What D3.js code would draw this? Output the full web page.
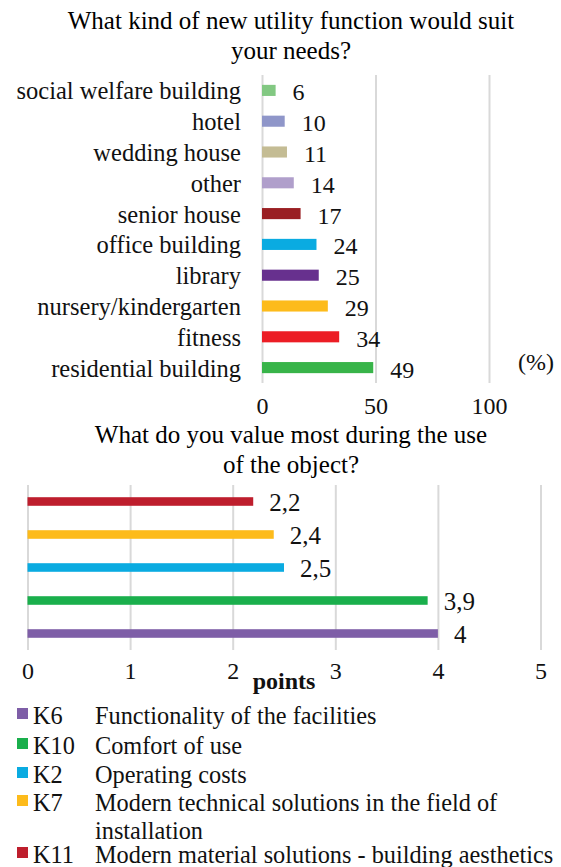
<!DOCTYPE html>
<html>
<head>
<meta charset="utf-8">
<script src="https://cdn.jsdelivr.net/npm/d3@7"></script>
</head>
<body style="margin:0;background:#fff">
<svg id="chart"></svg>
<script>
// top chart: utility function (%)
const useCategories = ["social welfare building", "hotel", "wedding house", "other", "senior house",
  "office building", "library", "nursery/kindergarten", "fitness", "residential building"];
const useValues = [6, 10, 11, 14, 17, 24, 25, 29, 34, 49];
const useColors = ["#82c882", "#8f96c9", "#c4bc94", "#b09fcb", "#9a1f23",
  "#0aabe1", "#67308e", "#fdbb1b", "#ec1d25", "#38b449"];
const useTicks = [0, 50, 100];

// bottom chart: what is valued most (points)
const valueCodes = ["K11", "K7", "K2", "K10", "K6"];
const valueScores = [2.2, 2.4, 2.5, 3.9, 4];
const valueColors = ["#be1e2d", "#fdbb1b", "#0aabe1", "#1aaf4c", "#7e5ea7"];
const valueTicks = [0, 1, 2, 3, 4, 5];

// legend (order as shown)
const legendCodes = ["K6", "K10", "K2", "K7", "K11"];
const legendNames = [
  ["Functionality of the facilities"],
  ["Comfort of use"],
  ["Operating costs"],
  ["Modern technical solutions in the field of", "installation"],
  ["Modern material solutions - building aesthetics"]
];

const W = 561, H = 867;
const svg = d3.select("#chart").attr("width", W).attr("height", H);
const grid = "#d9d9d9";

function title(lines, y0) {
  svg.append("text")
    .attr("x", 291).attr("y", y0)
    .attr("text-anchor", "middle")
    .style("font-size", "25px")
    .selectAll("tspan")
    .data(lines)
    .enter().append("tspan")
    .attr("x", 291)
    .attr("dy", (d, i) => i == 0 ? 0 : 30)
    .text(d => d);
}

// ---------- top chart ----------
title(["What kind of new utility function would suit", "your needs?"], 29);

let x1 = d3.scaleLinear().domain([0, 100]).range([262, 489]);
let y1 = d3.scaleBand().domain(useCategories).range([75, 383])
  .paddingInner(0.64).paddingOuter(0.32);

let g1 = svg.append("g");

let ax1 = g1.append("g")
  .attr("transform", "translate(0,383)")
  .call(d3.axisBottom(x1).tickValues(useTicks).tickFormat(d3.format("d"))
    .tickSize(-(383 - 75)).tickPadding(0));
ax1.select(".domain").remove();
ax1.selectAll("line").attr("stroke", grid).attr("stroke-width", 2);
ax1.selectAll("text").attr("y", 31).attr("dy", 0)
  .style("font-size", "24px").attr("fill", "#111");

let rows1 = useCategories.map((c, i) => ({ name: c, value: useValues[i], color: useColors[i] }));

g1.selectAll("rect.bar")
  .data(rows1)
  .enter().append("rect")
  .attr("class", "bar")
  .attr("x", x1(0))
  .attr("y", d => y1(d.name))
  .attr("width", d => x1(d.value) - x1(0))
  .attr("height", y1.bandwidth())
  .attr("fill", d => d.color);

g1.selectAll("text.cat")
  .data(rows1)
  .enter().append("text")
  .attr("class", "cat")
  .attr("x", 241)
  .attr("y", d => y1(d.name) + y1.bandwidth() / 2 + 9)
  .attr("text-anchor", "end")
  .style("font-size", "24.5px")
  .attr("fill", "#111")
  .text(d => d.name);

g1.selectAll("text.val")
  .data(rows1)
  .enter().append("text")
  .attr("class", "val")
  .attr("x", d => x1(d.value) + 17)
  .attr("y", d => y1(d.name) + y1.bandwidth() / 2 + 10)
  .style("font-size", "24px")
  .attr("fill", "#111")
  .text(d => d.value);

svg.append("text")
  .attr("x", 518).attr("y", 370)
  .style("font-size", "24px")
  .attr("fill", "#111")
  .text("(%)");

// ---------- bottom chart ----------
title(["What do you value most during the use", "of the object?"], 443);

let x2 = d3.scaleLinear().domain([0, 5]).range([27.5, 540.5]);
let y2 = d3.scaleBand().domain(valueCodes).range([485, 650])
  .paddingInner(0.74).paddingOuter(0.37);

let g2 = svg.append("g");

let ax2 = g2.append("g")
  .attr("transform", "translate(0,650)")
  .call(d3.axisBottom(x2).tickValues(valueTicks).tickFormat(d3.format("d"))
    .tickSize(-(650 - 485)).tickPadding(0));
ax2.select(".domain").remove();
ax2.selectAll("line").attr("stroke", grid).attr("stroke-width", 2);
ax2.selectAll("text").attr("y", 29).attr("dy", 0)
  .style("font-size", "24px").attr("fill", "#111");

let rows2 = valueCodes.map((c, i) => ({ code: c, value: valueScores[i], color: valueColors[i] }));

g2.selectAll("rect.bar")
  .data(rows2)
  .enter().append("rect")
  .attr("class", "bar")
  .attr("x", x2(0))
  .attr("y", d => y2(d.code))
  .attr("width", d => x2(d.value) - x2(0))
  .attr("height", y2.bandwidth())
  .attr("fill", d => d.color);

g2.selectAll("text.val")
  .data(rows2)
  .enter().append("text")
  .attr("class", "val")
  .attr("x", d => x2(d.value) + 16)
  .attr("y", d => y2(d.code) + y2.bandwidth() / 2 + 9)
  .style("font-size", "25px")
  .attr("fill", "#111")
  .text(d => String(d.value).replace(".", ","));

svg.append("text")
  .attr("x", 284).attr("y", 689)
  .attr("text-anchor", "middle")
  .style("font-size", "24px")
  .style("font-weight", "bold")
  .attr("fill", "#111")
  .text("points");

// ---------- legend ----------
let legendY = [724, 754, 783, 811, 863];
let leg = svg.append("g").attr("fill", "#111");

legendCodes.forEach(function (code, i) {
  let y = legendY[i];
  let color = valueColors[valueCodes.indexOf(code)];
  leg.append("rect")
    .attr("x", 17).attr("y", y - 16)
    .attr("width", 11).attr("height", 11)
    .attr("fill", color);
  leg.append("text")
    .attr("x", 33).attr("y", y)
    .style("font-size", "24.3px")
    .text(code);
  leg.append("text")
    .attr("x", 95).attr("y", y)
    .style("font-size", "24.3px")
    .selectAll("tspan")
    .data(legendNames[i])
    .enter().append("tspan")
    .attr("x", 95)
    .attr("dy", (d, j) => j == 0 ? 0 : 28)
    .text(d => d);
});

// serif everywhere
svg.selectAll("text").style("font-family", "'Liberation Serif'");
</script>
</body>
</html>
